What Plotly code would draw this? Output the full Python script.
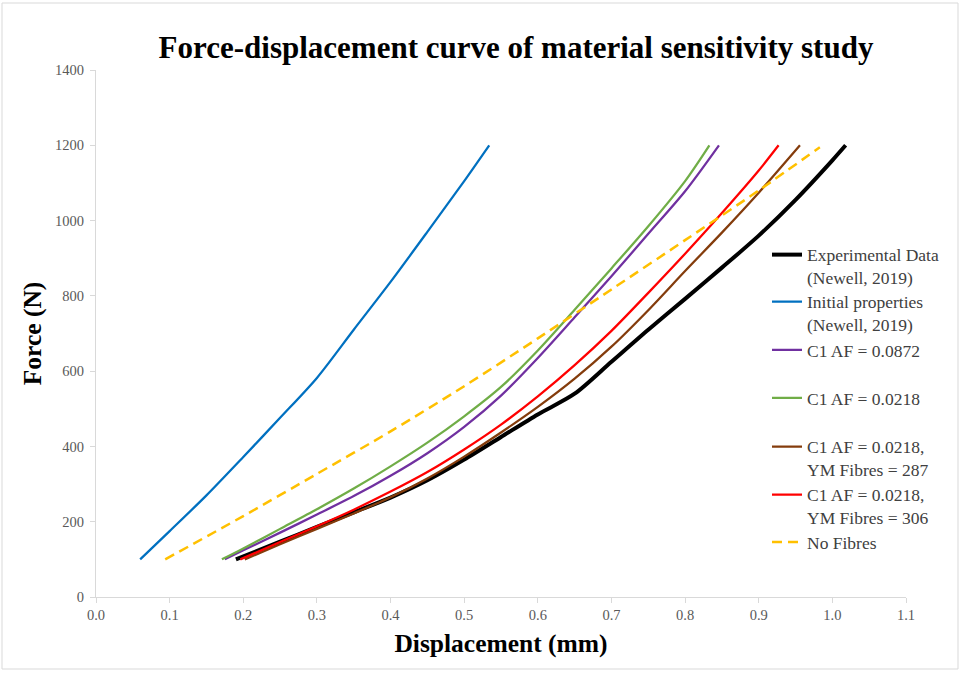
import plotly.graph_objects as go

# ---------------- data (displacement in mm, force in N) ----------------
exp_x = [0.19, 0.25, 0.3, 0.35, 0.4, 0.45, 0.5, 0.55, 0.6, 0.65, 0.7, 0.75, 0.8, 0.85, 0.9, 0.95, 1.0, 1.018]
exp_f = [100, 147, 186, 225, 264, 310, 365, 425, 485, 540, 625, 710, 792, 875, 960, 1055, 1160, 1200]

init_x = [0.06, 0.1, 0.15, 0.2, 0.25, 0.3, 0.35, 0.4, 0.45, 0.5, 0.534]
init_f = [100, 175, 270, 372, 476, 582, 710, 837, 970, 1105, 1200]

c0872_x = [0.175, 0.2, 0.25, 0.3, 0.35, 0.4, 0.45, 0.5, 0.55, 0.6, 0.65, 0.7, 0.75, 0.8, 0.846]
c0872_f = [100, 124, 171, 219, 268, 322, 382, 452, 535, 635, 743, 852, 965, 1078, 1200]

c0218_x = [0.171, 0.2, 0.25, 0.3, 0.35, 0.4, 0.45, 0.5, 0.55, 0.6, 0.65, 0.7, 0.75, 0.8, 0.833]
c0218_f = [100, 129, 181, 233, 288, 347, 410, 480, 558, 655, 763, 873, 985, 1105, 1200]

ym287_x = [0.202, 0.25, 0.3, 0.35, 0.4, 0.45, 0.5, 0.55, 0.6, 0.65, 0.7, 0.75, 0.8, 0.85, 0.9, 0.956]
ym287_f = [100, 140, 181, 222, 265, 315, 373, 437, 505, 580, 665, 762, 866, 968, 1074, 1200]

ym306_x = [0.196, 0.25, 0.3, 0.35, 0.4, 0.45, 0.5, 0.55, 0.6, 0.65, 0.7, 0.75, 0.8, 0.85, 0.9, 0.927]
ym306_f = [100, 146, 188, 232, 280, 332, 392, 458, 533, 616, 707, 808, 912, 1020, 1133, 1200]

nofib_x = [0.094, 0.2, 0.3, 0.4, 0.5, 0.6, 0.7, 0.8, 0.9, 0.983]
nofib_f = [100, 215, 327, 440, 560, 687, 817, 948, 1080, 1195]

names = [
    "&nbsp;<br>Experimental Data<br>(Newell, 2019)",
    "&nbsp;<br>Initial properties<br>(Newell, 2019)",
    "C1 AF = 0.0872",
    "C1 AF = 0.0218",
    "&nbsp;<br>C1 AF = 0.0218,<br>YM Fibres = 287",
    "&nbsp;<br>C1 AF = 0.0218,<br>YM Fibres = 306",
    "No Fibres",
]
xs = [exp_x, init_x, c0872_x, c0218_x, ym287_x, ym306_x, nofib_x]
fs = [exp_f, init_f, c0872_f, c0218_f, ym287_f, ym306_f, nofib_f]

# ---------------- styles ----------------
colors = ["#000000", "#0070C0", "#7030A0", "#70AD47", "#843C0C", "#FF0000", "#FFC000"]
widths = [4, 2.25, 2.25, 2.25, 2.25, 2.25, 2.5]
dashes = ["solid"] * 6 + ["10px,6px"]
legend_y_px = [255, 302, 350, 398, 447, 495, 542]

W, H = 961, 673
ML, MR, MT, MB = 96, 55, 70, 76
PW, PH = W - ML - MR, H - MT - MB

fig = go.Figure()
layout_legends = {}
for i in range(7):
    key = "legend" if i == 0 else f"legend{i+1}"
    fig.add_trace(go.Scatter(
        x=xs[i], y=fs[i], mode="lines", name=names[i],
        line=dict(color=colors[i], width=widths[i], dash=dashes[i], shape="spline", smoothing=0.8),
        legend=key, showlegend=True,
    ))
    layout_legends[key] = dict(
        x=(767 - ML) / PW, xanchor="left",
        y=(H - MB - legend_y_px[i]) / PH, yanchor="middle",
        bgcolor="rgba(0,0,0,0)", borderwidth=0,
        font=dict(family="Liberation Serif", size=17.5, color="#404040"),
        itemwidth=30, tracegroupgap=0,
    )

fig.update_layout(
    width=W, height=H,
    margin=dict(l=ML, r=MR, t=MT, b=MB),
    paper_bgcolor="white", plot_bgcolor="white",
    title=dict(
        text="<b>Force-displacement curve of material sensitivity study</b>",
        font=dict(family="Liberation Serif", size=31, color="#000000"),
        x=516 / W, xanchor="center", xref="container",
        y=1 - 47 / H, yanchor="middle", yref="container",
    ),
    xaxis=dict(
        range=[0, 1.1], dtick=0.1, tick0=0, tickformat=".1f",
        showgrid=False, zeroline=False,
        showline=True, linecolor="#d9d9d9", linewidth=1,
        ticks="outside", ticklen=5, tickcolor="#d9d9d9",
        tickfont=dict(family="Liberation Serif", size=14.5, color="#595959"),
        title=dict(text="<b>Displacement (mm)</b>", standoff=11,
                   font=dict(family="Liberation Serif", size=25.5, color="#000000")),
    ),
    yaxis=dict(
        range=[0, 1400], dtick=200, tick0=0,
        showgrid=False, zeroline=False,
        showline=True, linecolor="#d9d9d9", linewidth=1,
        ticks="outside", ticklen=5, tickcolor="#d9d9d9", ticklabelstandoff=3,
        tickfont=dict(family="Liberation Serif", size=14.5, color="#595959"),
        title=dict(text="<b>Force (N)</b>", standoff=6,
                   font=dict(family="Liberation Serif", size=25.5, color="#000000")),
    ),
    shapes=[dict(
        type="rect", xref="paper", yref="paper",
        x0=(2 - ML) / PW, x1=(958 - ML) / PW,
        y0=(H - MB - 669) / PH, y1=(H - MB - 3) / PH,
        line=dict(color="#d9d9d9", width=1), fillcolor="rgba(0,0,0,0)", layer="below",
    )],
    **layout_legends,
)

fig.write_html("out.html", config={"displayModeBar": False})
